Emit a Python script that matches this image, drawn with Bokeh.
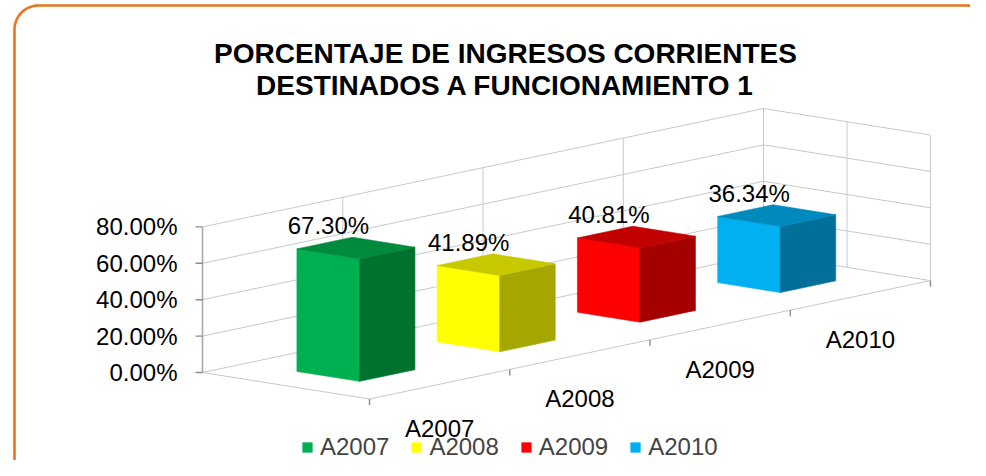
import numpy as np
from bokeh.plotting import figure
from bokeh.models import Range1d, ColumnDataSource, Legend, LegendItem
from bokeh.embed import file_html
from bokeh.resources import INLINE
from bokeh.core.properties import value

# ---------------- data ----------------
categories = ["A2007", "A2008", "A2009", "A2010"]
values = [67.30, 41.89, 40.81, 36.34]
value_labels = ["67.30%", "41.89%", "40.81%", "36.34%"]
value_ticks = [0, 20, 40, 60, 80]
value_tick_labels = ["0.00%", "20.00%", "40.00%", "60.00%", "80.00%"]
face_colors = ["#00B050", "#FFFF00", "#FF0000", "#00B0F0"]
side_colors = ["#00722F", "#A6A600", "#A50000", "#006F99"]
top_colors = ["#008A3D", "#C8C800", "#C20000", "#0089BD"]
title_lines = ["PORCENTAJE DE INGRESOS CORRIENTES", "DESTINADOS A FUNCIONAMIENTO 1"]

FONT = "Liberation Sans"

# ---------------- oblique 3-D projection (image pixel space) ----------------
OX, OY = 202.0, 372.0      # back-left-bottom corner
CX, CY = 140.25, -29.6     # one category step
DX, DY = 167.0, 26.5       # full depth (back -> front)
VY = -1.82                 # per percent


def proj(c, d, v):
    return OX + CX * c + DX * d, OY + CY * c + DY * d + VY * v


W, H = 970, 460
p = figure(width=W, height=H, x_range=Range1d(0, W), y_range=Range1d(H, 0),
           x_axis_type=None, y_axis_type=None, output_backend="svg",
           toolbar_location=None, min_border=0)
p.outline_line_color = None
p.background_fill_color = "white"
p.border_fill_color = "white"

ncat = len(categories)
vmax = value_ticks[-1]

# ---------------- walls / grid ----------------
gx, gy = [], []
for t in value_ticks:
    a = proj(0, 0, t); b = proj(ncat, 0, t); c = proj(ncat, 1, t)
    gx.append([a[0], b[0], c[0]]); gy.append([a[1], b[1], c[1]])
for k in range(1, ncat + 1):
    a = proj(k, 0, 0); b = proj(k, 0, vmax)
    gx.append([a[0], b[0]]); gy.append([a[1], b[1]])
for dd in (0.5, 1.0):
    a = proj(ncat, dd, 0); b = proj(ncat, dd, vmax)
    gx.append([a[0], b[0]]); gy.append([a[1], b[1]])
# floor left edge and front edge
a = proj(0, 0, 0); b = proj(0, 1, 0); c = proj(ncat, 1, 0)
gx.append([a[0], b[0], c[0]]); gy.append([a[1], b[1], c[1]])
p.multi_line(gx, gy, line_color="#C8C8C8", line_width=1)

# value axis
a = proj(0, 0, 0); b = proj(0, 0, vmax)
p.line([a[0], b[0]], [a[1], b[1]], line_color="#A8A8A8", line_width=1.6)
tx, ty = [], []
for t in value_ticks:
    x0, y0 = proj(0, 0, t)
    tx.append([x0 - 7, x0]); ty.append([y0, y0])
p.multi_line(tx, ty, line_color="#8C8C8C", line_width=1.4)
lx = [proj(0, 0, t)[0] - 25 for t in value_ticks]
ly = [proj(0, 0, t)[1] for t in value_ticks]
p.text(lx, ly, text=value_tick_labels, text_align="right", text_baseline="middle",
       text_font=value(FONT), text_font_size="24px", text_color="black")

# category axis ticks and labels
cx_t, cy_t = [], []
for k in range(ncat + 1):
    x0, y0 = proj(k, 1, 0)
    cx_t.append([x0, x0]); cy_t.append([y0, y0 + 6])
p.multi_line(cx_t, cy_t, line_color="#8C8C8C", line_width=1.4)
clx = [proj(k + 0.5, 1, 0)[0] for k in range(ncat)]
cly = [proj(k + 0.5, 1, 0)[1] + 44 for k in range(ncat)]
p.text(clx, cly, text=categories, text_align="center", text_baseline="middle",
       text_font=value(FONT), text_font_size="24px", text_color="black")

# ---------------- bars ----------------
C0, C1 = 0.31, 0.705
D0, D1 = 0.305, 0.68


def face(pts):
    xs, ys = zip(*[proj(*q) for q in pts])
    return list(xs), list(ys)


lxs, lys, fxs, fys, txs, tys = [], [], [], [], [], []
for k, v in enumerate(values):
    c0, c1 = k + C0, k + C1
    x, y = face([(c0, D0, 0), (c0, D1, 0), (c0, D1, v), (c0, D0, v)]); lxs.append(x); lys.append(y)
    x, y = face([(c0, D1, 0), (c1, D1, 0), (c1, D1, v), (c0, D1, v)]); fxs.append(x); fys.append(y)
    x, y = face([(c0, D0, v), (c1, D0, v), (c1, D1, v), (c0, D1, v)]); txs.append(x); tys.append(y)

light_src = ColumnDataSource(dict(xs=lxs, ys=lys, color=face_colors))
r_light = p.patches("xs", "ys", source=light_src, fill_color="color", line_color="color", line_width=0.6)
p.patches(fxs, fys, fill_color=side_colors, line_color=side_colors, line_width=0.6)
p.patches(txs, tys, fill_color=top_colors, line_color=top_colors, line_width=0.6)

# data labels
dlx = [proj(k + (C0 + C1) / 2, (D0 + D1) / 2, v)[0] - 27.5 for k, v in enumerate(values)]
dly = [proj(k + (C0 + C1) / 2, (D0 + D1) / 2, v)[1] - 22.5 for k, v in enumerate(values)]
p.text(dlx, dly, text=value_labels, text_align="center", text_baseline="middle",
       text_font=value(FONT), text_font_size="24px", text_color="black")

# ---------------- title ----------------
p.text([505, 505], [53, 85], text=title_lines, text_align="center", text_baseline="alphabetic",
       text_font=value(FONT), text_font_size="28px", text_font_style="bold", text_color="black")

# ---------------- rounded orange border ----------------
bx0, bx1, by0, by1, r = 14.0, 990.0, 5.0, 484.0, 24.0


def arc(cx, cy, a0, a1):
    th = np.linspace(a0, a1, 16)
    return list(cx + r * np.cos(th)), list(cy + r * np.sin(th))


ax1, ay1 = arc(bx1 - r, by0 + r, -np.pi / 2, 0)
ax2, ay2 = arc(bx1 - r, by1 - r, 0, np.pi / 2)
ax3, ay3 = arc(bx0 + r, by1 - r, np.pi / 2, np.pi)
ax4, ay4 = arc(bx0 + r, by0 + r, np.pi, 1.5 * np.pi)
brx = ax1 + ax2 + ax3 + ax4 + [ax1[0]]
bry = ay1 + ay2 + ay3 + ay4 + [ay1[0]]
p.line(brx, bry, line_color="#E8761E", line_width=2.6)

# ---------------- legend ----------------
legend = Legend(items=[LegendItem(label=value(categories[i]), renderers=[r_light], index=i)
                       for i in range(ncat)],
                orientation="horizontal", location=(301, -1),
                label_text_font=FONT, label_text_font_size="24px",
                glyph_width=12, glyph_height=12, label_standoff=7, spacing=21,
                padding=0, margin=0, border_line_color=None, background_fill_alpha=0)
p.add_layout(legend)

open("out.html", "w").write(file_html(p, INLINE))
